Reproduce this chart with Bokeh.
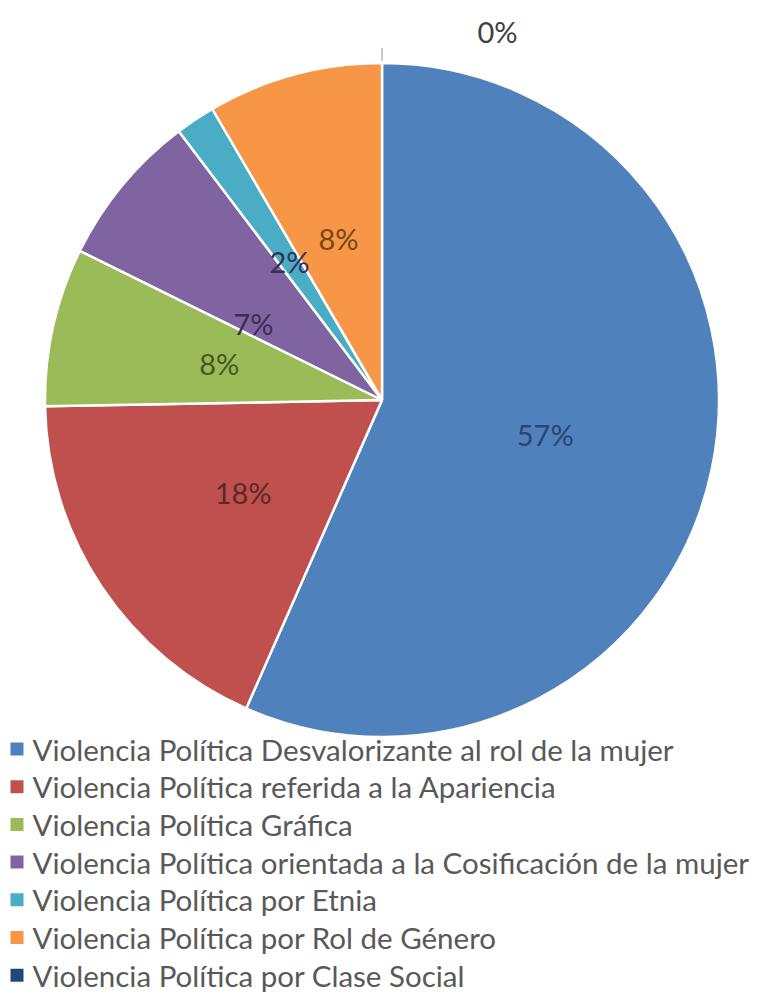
import math
from bokeh.plotting import figure
from bokeh.models import Range1d, ColumnDataSource
from bokeh.core.properties import value
from bokeh.embed import file_html
from bokeh.resources import INLINE

# ---- data ----
categories = [
    "Violencia Política Desvalorizante al rol de la mujer",
    "Violencia Política referida a la Apariencia",
    "Violencia Política Gráfica",
    "Violencia Política orientada a la Cosificación de la mujer",
    "Violencia Política por Etnia",
    "Violencia Política por Rol de Género",
    "Violencia Política por Clase Social",
]
shares = [56.6, 18.1, 7.6, 7.4, 1.9, 8.4, 0.0]
pct_labels = ["57%", "18%", "8%", "7%", "2%", "8%", "0%"]

# ---- style ----
colors = ["#4F81BD", "#C0504D", "#9BBB59", "#8064A2", "#4BACC6", "#F79646", "#1F497D"]
label_colors = ["#2B4670", "#5E2826", "#45591F", "#3A2E55", "#33305A", "#7A4516", "#404040"]
label_nudge_y = [0, 0, 0, -30, 0, 0, 0]

W, H = 760, 998
p = figure(width=W, height=H, output_backend="svg", toolbar_location=None,
           x_range=Range1d(0, W), y_range=Range1d(0, H), min_border=0)
p.axis.visible = False
p.grid.visible = False
p.outline_line_color = None
p.background_fill_color = "white"
p.border_fill_color = "white"

cx, cy, R = 381.5, 598.5, 337.0
total = sum(shares)

starts, ends, lx, ly = [], [], [], []
cum = 0.0
for i, s in enumerate(shares):
    a0 = cum / total * 2 * math.pi  # clockwise from top
    a1 = (cum + s) / total * 2 * math.pi
    cum += s
    starts.append(math.pi / 2 - a1)
    ends.append(math.pi / 2 - a0)
    am = (a0 + a1) / 2
    r = 0.495 * R
    lx.append(cx + r * math.sin(am))
    ly.append(cy + r * math.cos(am) + label_nudge_y[i])

n = len(shares) - 1  # last (zero) slice drawn as leader + outside label
src = ColumnDataSource(dict(start=starts[:n], end=ends[:n], color=colors[:n]))
p.wedge(x=cx, y=cy, radius=R, start_angle="start", end_angle="end",
        fill_color="color", line_color="white", line_width=2.5, source=src)

lsrc = ColumnDataSource(dict(x=lx[:n], y=ly[:n], t=pct_labels[:n], c=label_colors[:n]))
p.text(x="x", y="y", text="t", text_color="c", source=lsrc, text_align="center",
       text_baseline="middle", text_font=value("Lato"), text_font_size="29px")

# zero-share slice: leader line and outside label
p.segment(x0=[cx], y0=[cy + R + 2], x1=[cx], y1=[cy + R + 15], line_color="#A6A6A6", line_width=1.2)
p.text(x=[497], y=[967], text=[pct_labels[-1]], text_color=label_colors[-1],
       text_align="center", text_baseline="middle", text_font=value("Lato"), text_font_size="29px")

# legend
step = 37.7
ys = [H - (748.5 + step * i) for i in range(len(categories))]
p.rect(x=[16.5] * len(categories), y=ys, width=13, height=13, fill_color=colors, line_color=None)
p.text(x=[32] * len(categories), y=ys, text=categories, text_color="#595959",
       text_align="left", text_baseline="middle", text_font=value("Lato"), text_font_size="29.5px")

open("out.html", "w").write(file_html(p, INLINE))
